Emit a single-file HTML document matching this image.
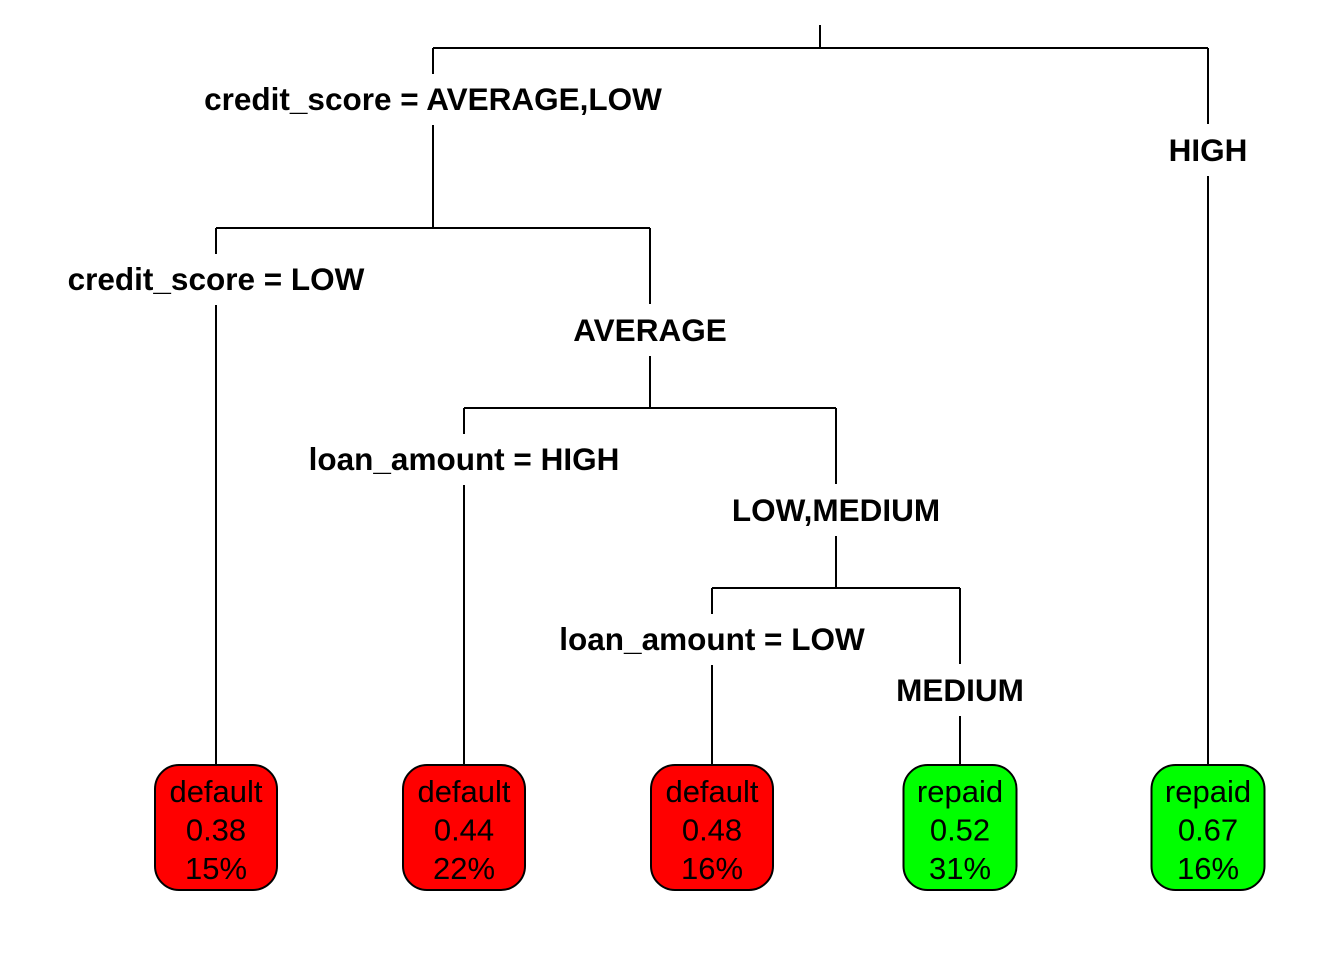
<!DOCTYPE html>
<html><head><meta charset="utf-8"><style>
html,body{margin:0;padding:0;background:#fff}
svg{display:block}
text{font-family:"Liberation Sans",Arial,sans-serif}
</style></head><body>
<svg id="tree" width="1344" height="960" viewBox="0 0 1344 960" xmlns="http://www.w3.org/2000/svg"></svg>
<script>
const leafClass = ["default","default","default","repaid","repaid"];
const leafProb = ["0.38","0.44","0.48","0.52","0.67"];
const leafPct = ["15%","22%","16%","31%","16%"];
const splitLeftLabels = ["credit_score = AVERAGE,LOW","credit_score = LOW","loan_amount = HIGH","loan_amount = LOW"];
const splitRightLabels = ["HIGH","AVERAGE","LOW,MEDIUM","MEDIUM"];

const svg = document.getElementById('tree');
const NS = 'http://www.w3.org/2000/svg';
function mk(tag, attrs){const e=document.createElementNS(NS,tag);for(const k in attrs)e.setAttribute(k,attrs[k]);svg.appendChild(e);return e;}
function line(x1,y1,x2,y2){return mk('line',{x1,y1,x2,y2,stroke:'#000','stroke-width':2});}

const leafX = [216,464,712,960,1208];
const leafTop = 765;
const splits = [
  {px:820, py:25, lx:433, rx:1208, y:48, lb:228, rb:765},
  {px:433, py:228, lx:216, rx:650, y:228, lb:765, rb:408},
  {px:650, py:408, lx:464, rx:836, y:408, lb:765, rb:588},
  {px:836, py:588, lx:712, rx:960, y:588, lb:765, rb:765}
];

splits.forEach((s,i)=>{
  if(i===0) line(s.px,s.py,s.px,s.y);
  line(s.lx,s.y,s.rx,s.y);
  const ly = s.y + 52;
  line(s.lx,s.y,s.lx,ly-26);
  line(s.lx,ly+25,s.lx,s.lb);
  const t1 = mk('text',{x:s.lx,y:ly+10,'text-anchor':'middle','font-size':31.5,'font-weight':'bold',fill:'#000',textLength:0});
  t1.removeAttribute('textLength');
  t1.textContent = splitLeftLabels[i];
  
  
  const ry = s.y + 103;
  line(s.rx,s.y,s.rx,ry-27);
  line(s.rx,ry+25,s.rx,s.rb);
  const t2 = mk('text',{x:s.rx,y:ry+10,'text-anchor':'middle','font-size':31.5,'font-weight':'bold',fill:'#000'});
  t2.textContent = splitRightLabels[i];
  
  
});

leafClass.forEach((c,i)=>{
  const x = leafX[i];
  const w = c==='default' ? 122 : 113;
  const r = mk('rect',{x:x-w/2,y:leafTop,width:w,height:125,rx:24,ry:24,fill:c==='default'?'#ff0000':'#00ff00',stroke:'#000','stroke-width':2});
  
  
  [c,leafProb[i],leafPct[i]].forEach((s,j)=>{
    const t = mk('text',{x:x,y:leafTop+37+j*38.5,'text-anchor':'middle','font-size':31,fill:'#000'});
    t.textContent = s;
    
    
  });
});
</script>
</body></html>
